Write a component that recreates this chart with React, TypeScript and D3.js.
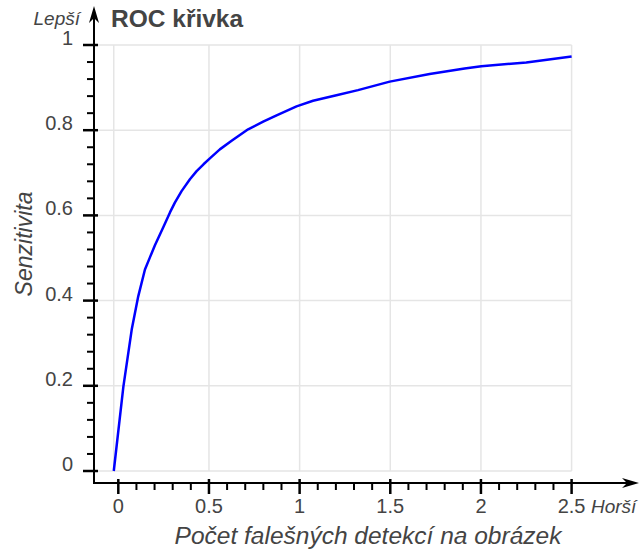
// ROC curve chart drawn with d3 scales + JSX
import * as d3 from 'd3';

// false detections per image (x) and sensitivity (y)
const falseDetections = [
  -0.025, 0.028, 0.074, 0.11, 0.147, 0.175, 0.202, 0.248, 0.285, 0.312, 0.349, 0.395, 0.432, 0.47, 0.505,
  0.56, 0.625, 0.716, 0.799, 0.873, 0.983, 1.074, 1.203, 1.322, 1.497, 1.717, 1.91, 2.002, 2.25, 2.5,
];
const sensitivity = [
  0, 0.198, 0.332, 0.41, 0.473, 0.502, 0.53, 0.572, 0.607, 0.63, 0.657, 0.685, 0.704, 0.72, 0.734,
  0.755, 0.775, 0.802, 0.82, 0.835, 0.856, 0.869, 0.882, 0.894, 0.914, 0.932, 0.945, 0.95, 0.959, 0.973,
];

const xTickValues = [0, 0.5, 1, 1.5, 2, 2.5];
const yTickValues = [0, 0.2, 0.4, 0.6, 0.8, 1];
const xGridValues = [-0.025, 0.5, 1, 1.5, 2, 2.5];

const FONT = '"Liberation Sans", Arial, Helvetica, sans-serif';
const TEXT = '#444';

export default function App() {
  const width = 640;
  const height = 552;

  const x = d3.scaleLinear().domain([0, 2.5]).range([118.3, 571.6]);
  const y = d3.scaleLinear().domain([0, 1]).range([471, 45]);

  const axisX = 94; // vertical axis position
  const axisY = 483; // horizontal axis position

  const xMinor = d3.range(0, 2.5001, 0.1).filter(v => Math.abs(v / 0.5 - Math.round(v / 0.5)) > 1e-6);
  const yMinor = d3.range(0, 1.0001, 0.04).filter(v => Math.abs(v / 0.2 - Math.round(v / 0.2)) > 1e-6);

  const points: [number, number][] = falseDetections.map((d, i) => [d, sensitivity[i]]);
  const line = d3.line<[number, number]>()
    .x(d => x(d[0]))
    .y(d => y(d[1]))
    .curve(d3.curveLinear);

  const fmt = (v: number) => String(v);

  return (
    <div style={{ position: 'absolute', left: 0, top: 0 }}>
      <svg width={width} height={height} style={{ display: 'block', background: '#fff' }}>
        {/* grid */}
        <g stroke="#e5e5e5" strokeWidth={1.5}>
          {yTickValues.map(v => (
            <line key={'gy' + v} x1={axisX} x2={x(2.5)} y1={y(v)} y2={y(v)} />
          ))}
          {xGridValues.map(v => (
            <line key={'gx' + v} x1={x(v)} x2={x(v)} y1={y(1)} y2={y(0)} />
          ))}
        </g>

        {/* the ROC curve */}
        <path d={line(points) ?? ''} fill="none" stroke="#0000ff" strokeWidth={2.5} strokeLinejoin="round" />

        {/* axes */}
        <g stroke="#000">
          <line x1={axisX} x2={axisX} y1={axisY + 1} y2={14} strokeWidth={2} />
          <line x1={axisX - 1} x2={632} y1={axisY} y2={axisY} strokeWidth={2} />
          {yTickValues.map(v => (
            <line key={'ty' + v} x1={83} x2={98} y1={y(v)} y2={y(v)} strokeWidth={2.5} />
          ))}
          {yMinor.map(v => (
            <line key={'my' + v} x1={87} x2={axisX} y1={y(v)} y2={y(v)} strokeWidth={2} />
          ))}
          {xTickValues.map(v => (
            <line key={'tx' + v} x1={x(v)} x2={x(v)} y1={479} y2={494} strokeWidth={2.5} />
          ))}
          {xMinor.map(v => (
            <line key={'mx' + v} x1={x(v)} x2={x(v)} y1={axisY} y2={490} strokeWidth={2} />
          ))}
        </g>
        {/* arrow heads */}
        <path d={`M${axisX},6 L${axisX + 5},23 L${axisX},18 L${axisX - 5},23 Z`} fill="#000" />
        <path d={`M639,${axisY} L622,${axisY - 5} L627,${axisY} L622,${axisY + 5} Z`} fill="#000" />

        {/* tick labels */}
        <g fontFamily={FONT} fontSize={20} fill={TEXT}>
          {yTickValues.map(v => (
            <text key={'ly' + v} x={73} y={y(v)} textAnchor="end">{fmt(v)}</text>
          ))}
          {xTickValues.map(v => (
            <text key={'lx' + v} x={x(v)} y={513} textAnchor="middle">{fmt(v)}</text>
          ))}
        </g>

        {/* direction hints */}
        <text x={80} y={25} textAnchor="end" fontFamily={FONT} fontSize={19} fontStyle="italic" fill={TEXT}>Lepší</text>
        <text x={591} y={513} fontFamily={FONT} fontSize={19} fontStyle="italic" fill={TEXT}>Horší</text>

        {/* title */}
        <text x={111} y={27} fontFamily={FONT} fontSize={24.5} fontWeight="bold" fill={TEXT}>ROC křivka</text>

        {/* axis titles */}
        <text x={368} y={544} textAnchor="middle" fontFamily={FONT} fontSize={24.5} fontStyle="italic" fill={TEXT}>
          Počet falešných detekcí na obrázek
        </text>
        <text transform="translate(32,244) rotate(-90)" textAnchor="middle" fontFamily={FONT} fontSize={23} fontStyle="italic" fill={TEXT}>
          Senzitivita
        </text>
      </svg>
    </div>
  );
}
